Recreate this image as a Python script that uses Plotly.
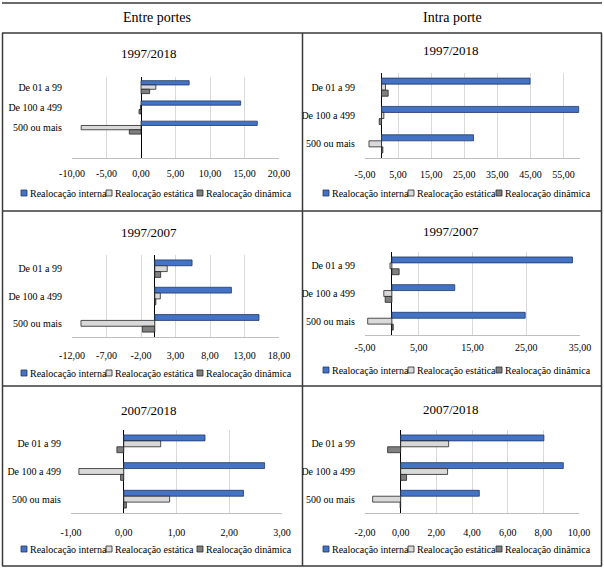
import plotly.graph_objects as go

W, H = 604, 568

categories = ["De 01 a 99", "De 100 a 499", "500 ou mais"]
series_names = ["Realocação interna", "Realocação estática", "Realocação dinâmica"]
column_titles = ["Entre portes", "Intra porte"]
panel_titles = ["1997/2018", "1997/2018", "1997/2007", "1997/2007", "2007/2018", "2007/2018"]

# Entre portes
entre_9718_interna = [6.98, 14.44, 16.85]
entre_9718_estatica = [2.15, -0.08, -8.67]
entre_9718_dinamica = [1.25, -0.29, -1.69]

entre_9707_interna = [5.40, 11.10, 15.10]
entre_9707_estatica = [1.80, 0.80, -10.70]
entre_9707_dinamica = [0.85, 0.15, -1.80]

entre_0718_interna = [1.54, 2.67, 2.27]
entre_0718_estatica = [0.70, -0.85, 0.87]
entre_0718_dinamica = [-0.13, -0.06, 0.05]

# Intra porte
intra_9718_interna = [44.9, 59.6, 27.8]
intra_9718_estatica = [1.2, 0.7, -3.8]
intra_9718_dinamica = [2.0, -0.7, 0.4]

intra_9707_interna = [33.6, 11.7, 24.8]
intra_9707_estatica = [-0.35, -1.5, -4.5]
intra_9707_dinamica = [1.35, -1.25, 0.25]

intra_0718_interna = [8.03, 9.12, 4.41]
intra_0718_estatica = [2.69, 2.63, -1.57]
intra_0718_dinamica = [-0.73, 0.33, -0.03]

# axis tick values per panel
ticks_p1 = [-10, -5, 0, 5, 10, 15, 20]
ticks_p2 = [-5, 5, 15, 25, 35, 45, 55]
ticks_p3 = [-12, -7, -2, 3, 8, 13, 18]
ticks_p4 = [-5, 5, 15, 25, 35]
ticks_p5 = [-1, 0, 1, 2, 3]
ticks_p6 = [-2, 0, 2, 4, 6, 8, 10]

panels = [
    dict(data=[entre_9718_interna, entre_9718_estatica, entre_9718_dinamica], ticks=ticks_p1,
         xr=[-10, 20], px=(72, 279), py=(77, 158), nslots=4, ticklen=6, title_y=53, leg_y=193, col=0),
    dict(data=[intra_9718_interna, intra_9718_estatica, intra_9718_dinamica], ticks=ticks_p2,
         xr=[-5, 60], px=(365, 580), py=(73, 158), nslots=3, ticklen=7, title_y=50, leg_y=193, col=1),
    dict(data=[entre_9707_interna, entre_9707_estatica, entre_9707_dinamica], ticks=ticks_p3,
         xr=[-12, 18], px=(72, 279), py=(255, 337), nslots=3, ticklen=9, title_y=232, leg_y=373, col=0),
    dict(data=[intra_9707_interna, intra_9707_estatica, intra_9707_dinamica], ticks=ticks_p4,
         xr=[-5, 35], px=(365, 580), py=(252, 335), nslots=3, ticklen=3, title_y=231, leg_y=370, col=1),
    dict(data=[entre_0718_interna, entre_0718_estatica, entre_0718_dinamica], ticks=ticks_p5,
         xr=[-1, 3], px=(71, 282), py=(430, 513), nslots=3, ticklen=10, title_y=410, leg_y=549, col=0),
    dict(data=[intra_0718_interna, intra_0718_estatica, intra_0718_dinamica], ticks=ticks_p6,
         xr=[-2, 10], px=(365, 579), py=(430, 513), nslots=3, ticklen=10, title_y=409, leg_y=549, col=1),
]

fill_colors = ["#4472C4", "#D9D9D9", "#808080"]
line_colors = ["#1F3864", "#262626", "#262626"]
FONT = "Liberation Serif"
TXT = "#000000"


def fx(p):
    return p / W


def fy(p):
    return 1 - p / H


def fmt(v):
    return f"{v:.2f}".replace(".", ",")


fig = go.Figure()
layout = dict(
    width=W, height=H, autosize=False, margin=dict(l=0, r=0, t=0, b=0, pad=0),
    paper_bgcolor="white", plot_bgcolor="white",
    barmode="group", bargap=0.36, bargroupgap=0.0,
    showlegend=False, font=dict(family=FONT, size=10, color=TXT),
)
shapes = []
annotations = []

for i, p in enumerate(panels, start=1):
    xa = "x" if i == 1 else f"x{i}"
    ya = "y" if i == 1 else f"y{i}"
    for s in range(3):
        fig.add_trace(go.Bar(
            x=p["data"][s], y=categories, orientation="h", name=series_names[s],
            marker=dict(color=fill_colors[s], line=dict(color=line_colors[s], width=0.8)),
            xaxis=xa, yaxis=ya, hoverinfo="x+y+name",
        ))
    layout[f"xaxis{i}"] = dict(
        domain=[fx(p["px"][0]), fx(p["px"][1])], anchor=ya, range=p["xr"],
        tickmode="array", tickvals=p["ticks"], ticktext=[fmt(v) for v in p["ticks"]],
        showgrid=True, gridcolor="#D9D9D9", gridwidth=1,
        zeroline=True, zerolinecolor="#000000", zerolinewidth=1,
        showline=True, linecolor="#BFBFBF", linewidth=1,
        ticks="outside", ticklen=p["ticklen"], tickcolor="rgba(0,0,0,0)",
        tickfont=dict(family=FONT, size=10, color=TXT), fixedrange=True, automargin=False,
    )
    layout[f"yaxis{i}"] = dict(
        domain=[fy(p["py"][1]), fy(p["py"][0])], anchor=xa,
        type="category", categoryorder="array", categoryarray=categories,
        range=[p["nslots"] - 0.5, -0.5],
        showgrid=False, zeroline=False, showline=False,
        ticks="outside", ticklen=7, tickcolor="rgba(0,0,0,0)",
        tickfont=dict(family=FONT, size=10, color=TXT), fixedrange=True, automargin=False,
    )
    off = 0 if p["col"] == 0 else 302
    annotations.append(dict(
        text=panel_titles[i - 1], x=fx(off + 149), y=fy(p["title_y"]), xref="paper", yref="paper",
        showarrow=False, xanchor="center", yanchor="middle",
        font=dict(family=FONT, size=13, color=TXT),
    ))
    # legend entries
    sq_x = [21, 106, 197] if p["col"] == 0 else [21, 106, 194]
    for s in range(3):
        x0 = off + sq_x[s]
        yc = p["leg_y"]
        shapes.append(dict(
            type="rect", xref="paper", yref="paper",
            x0=fx(x0), x1=fx(x0 + 6), y0=fy(yc + 3), y1=fy(yc - 3),
            fillcolor=fill_colors[s], line=dict(color=line_colors[s], width=0.8),
        ))
        annotations.append(dict(
            text=series_names[s], x=fx(x0 + 7), y=fy(yc), xref="paper", yref="paper",
            showarrow=False, xanchor="left", yanchor="middle",
            font=dict(family=FONT, size=10, color=TXT),
        ))

# column headers
annotations.append(dict(text=column_titles[0], x=fx(157), y=fy(18), xref="paper", yref="paper",
                        showarrow=False, xanchor="center", yanchor="middle",
                        font=dict(family=FONT, size=14, color=TXT)))
annotations.append(dict(text=column_titles[1], x=fx(452), y=fy(18), xref="paper", yref="paper",
                        showarrow=False, xanchor="center", yanchor="middle",
                        font=dict(family=FONT, size=14, color=TXT)))

# table grid lines
LC = "#3a3a3a"
grid_lines = [
    (2, 3, 602, 3), (2, 33, 602, 33), (2, 211, 602, 211), (2, 386, 602, 386), (2, 566, 602, 566),
    (2.5, 33, 2.5, 566), (302.5, 33, 302.5, 566), (601.5, 33, 601.5, 566),
]
for (x0, y0, x1, y1) in grid_lines:
    shapes.append(dict(type="line", xref="paper", yref="paper",
                       x0=fx(x0), y0=fy(y0), x1=fx(x1), y1=fy(y1),
                       line=dict(color=LC, width=1.5)))

layout["shapes"] = shapes
layout["annotations"] = annotations
fig.update_layout(**layout)
fig.write_html("out.html",
               config={"displayModeBar": False, "responsive": False},
               post_script="document.documentElement.style.margin='0px';document.body.style.margin='0px';document.body.style.overflow='hidden';")
